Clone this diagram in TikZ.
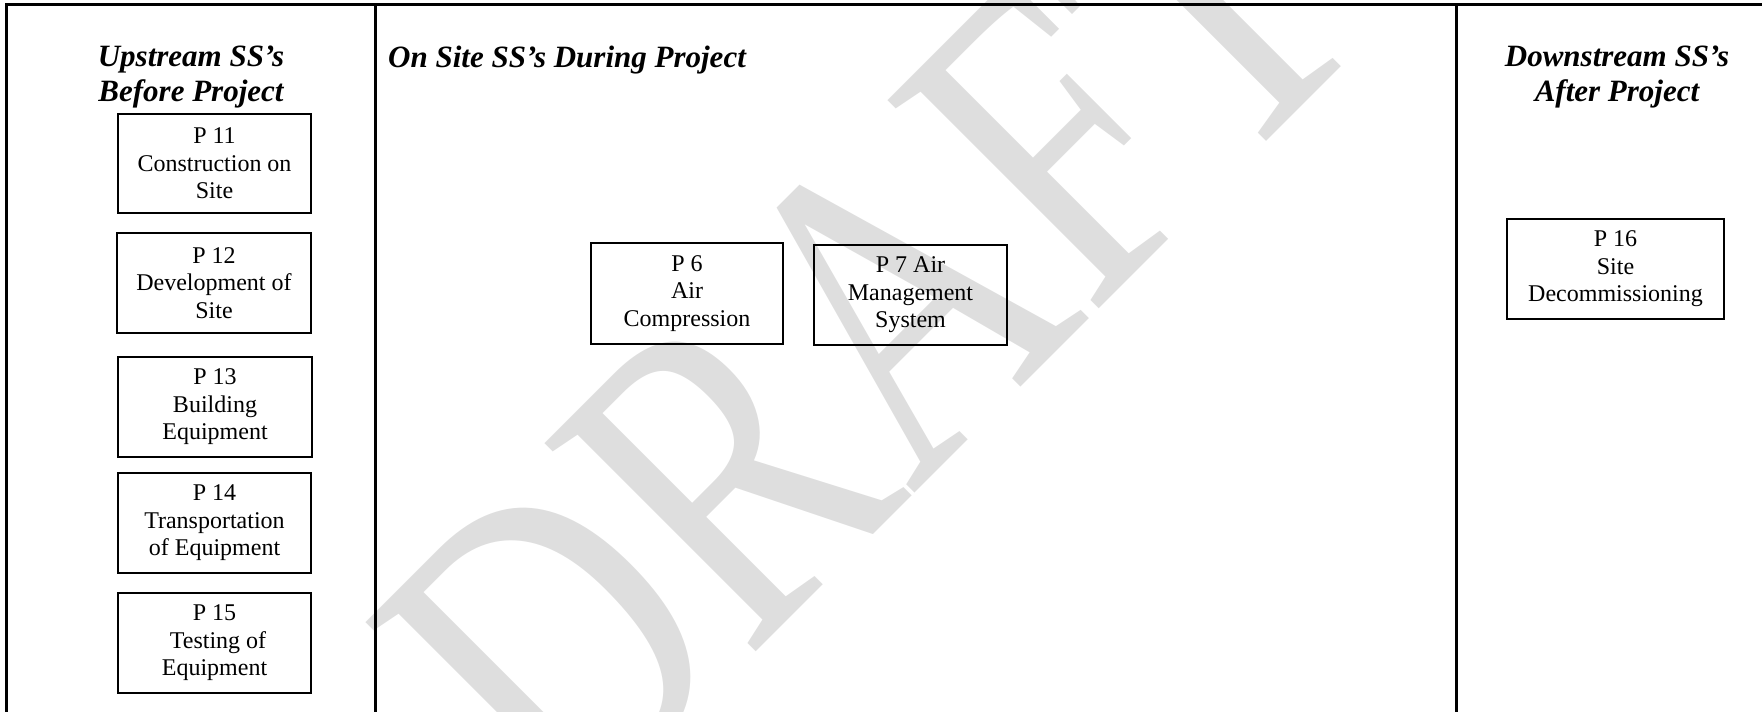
\documentclass[tikz,border=0pt]{standalone}
\usepackage{fontspec}
\setmainfont{Liberation Serif}
\definecolor{wmgray}{RGB}{222,222,222}
\tikzset{
  frameline/.style={line width=3pt, line cap=rect},
  pbox/.style={draw, line width=1.8pt, inner sep=0pt, align=center,
    font=\fontsize{24}{27.5}\selectfont},
  heading/.style={inner sep=0pt, align=center,
    font=\fontsize{31}{35}\selectfont\bfseries\itshape},
  watermark/.style={transform shape, anchor=base west, inner sep=0pt, text=wmgray,
    font=\fontsize{100}{100}\selectfont\addfontfeatures{Kerning=Off}}
}
\begin{document}
\begin{tikzpicture}[x=1pt,y=1pt]
\useasboundingbox (0,0) rectangle (1762,-712);
% watermark
\begin{scope}
  \clip (0,0) rectangle (1762,-712);
  \begin{scope}[shift={(568,-840)}, rotate=45, xscale=3.5, yscale=4.53]
    \node[watermark] (wm) at (0,0) {DRAFT};
  \end{scope}
\end{scope}
% frame
\coordinate (tl) at (6.5,-4.5);
\coordinate (tr) at (1762,-4.5);
\coordinate (bl) at (6.5,-712);
\coordinate (d1t) at (375.5,-4.5);
\coordinate (d1b) at (375.5,-712);
\coordinate (d2t) at (1456.5,-4.5);
\coordinate (d2b) at (1456.5,-712);
\draw[frameline] (bl) -- (tl) -- (tr);
\draw[frameline] (d1t) -- (d1b);
\draw[frameline] (d2t) -- (d2b);
% headings
\node[heading] (h1) at (191,-77) {Upstream SS’s\\Before Project};
\node[heading, anchor=base west] (h2) at (388,-67) {On Site SS’s During Project};
\node[heading] (h3) at (1617,-77) {Downstream SS’s\\After Project};
% boxes
\node[pbox, minimum width=193pt, minimum height=99pt] (p11) at (214.5,-163.5) {P 11\\Construction on\\Site};
\node[pbox, minimum width=194pt, minimum height=100pt] (p12) at (214,-283) {P 12\\Development of\\Site};
\node[pbox, minimum width=194pt, minimum height=100pt] (p13) at (215,-407) {P 13\\Building\\Equipment};
\node[pbox, minimum width=193pt, minimum height=100pt] (p14) at (214.5,-523) {P 14\\Transportation\\of Equipment};
\node[pbox, minimum width=193pt, minimum height=100pt] (p15) at (214.5,-643) {P 15\\\hspace*{7pt}Testing of\\Equipment};
\node[pbox, minimum width=192pt, minimum height=101pt] (p6) at (687,-293.5) {P 6\\Air\\Compression};
\node[pbox, minimum width=193pt, minimum height=100pt] (p7) at (910.5,-295) {P 7 Air\\Management\\System};
\node[pbox, minimum width=217pt, minimum height=100pt] (p16) at (1615.5,-269) {P 16\\Site\\Decommissioning};
\end{tikzpicture}
\end{document}
